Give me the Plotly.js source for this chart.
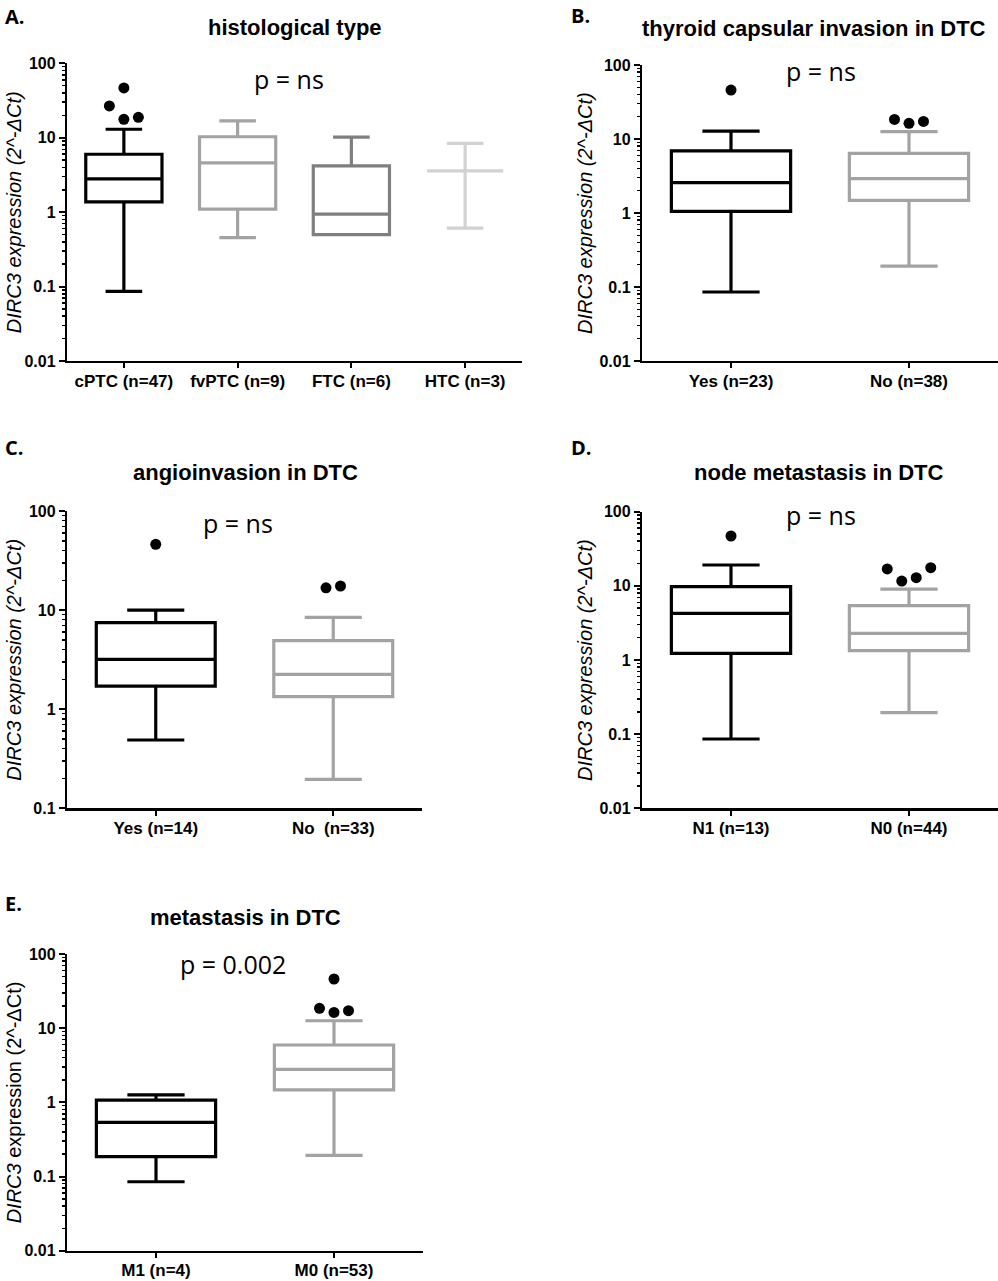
<!DOCTYPE html>
<html><head><meta charset="utf-8">
<script src="https://cdn.plot.ly/plotly-3.0.1.min.js"></script>
<style>html,body{margin:0;padding:0;background:#fff}#chart{width:998px;height:1281px}</style>
</head><body><div id="chart"></div>
<script>
// ---------- DATA ----------
// Panel A: histological type
const catsA = ['cPTC (n=47)', 'fvPTC (n=9)', 'FTC (n=6)', 'HTC (n=3)'];
const lowA = [0.086, 0.455, 0.50, 0.61];
const q1A  = [1.37, 1.10, 0.50, 3.58];
const medA = [2.8, 4.6, 0.94, 3.58];
const q3A  = [6.0, 10.3, 4.18, 3.58];
const upA  = [13.0, 16.8, 10.2, 8.4];
const outGrpA = [0, 0, 0, 0];
const outValA = [46.6, 26.7, 17.7, 18.8];
const outSlotA = [0, -1, 0, 1];

// Panel B: thyroid capsular invasion in DTC
const catsB = ['Yes (n=23)', 'No (n=38)'];
const lowB = [0.0856, 0.192];
const q1B  = [1.05, 1.48];
const medB = [2.57, 2.91];
const q3B  = [6.9, 6.4];
const upB  = [12.8, 12.6];
const outGrpB = [0, 1, 1, 1];
const outValB = [45.9, 18.4, 16.3, 17.3];
const outSlotB = [0, -1, 0, 1];

// Panel C: angioinvasion in DTC
const catsC = ['Yes (n=14)', 'No  (n=33)'];
const lowC = [0.489, 0.196];
const q1C  = [1.71, 1.34];
const medC = [3.18, 2.25];
const q3C  = [7.46, 4.92];
const upC  = [10.0, 8.45];
const outGrpC = [0, 1, 1];
const outValC = [46.1, 16.8, 17.5];
const outSlotC = [0, -0.5, 0.5];

// Panel D: node metastasis in DTC
const catsD = ['N1 (n=13)', 'N0 (n=44)'];
const lowD = [0.086, 0.195];
const q1D  = [1.23, 1.34];
const medD = [4.26, 2.29];
const q3D  = [9.75, 5.4];
const upD  = [19.1, 9.06];
const outGrpD = [0, 1, 1, 1, 1];
const outValD = [47.0, 16.9, 11.6, 12.9, 17.6];
const outSlotD = [0, -1.5, -0.5, 0.5, 1.5];

// Panel E: metastasis in DTC
const catsE = ['M1 (n=4)', 'M0 (n=53)'];
const lowE = [0.085, 0.193];
const q1E  = [0.185, 1.47];
const medE = [0.537, 2.79];
const q3E  = [1.07, 5.93];
const upE  = [1.26, 12.6];
const outGrpE = [1, 1, 1, 1];
const outValE = [46.0, 18.5, 16.3, 17.2];
const outSlotE = [0, -1, 0, 1];

const titles = ['histological type', 'thyroid capsular invasion in DTC', 'angioinvasion in DTC', 'node metastasis in DTC', 'metastasis in DTC'];
const letters = ['A.', 'B.', 'C.', 'D.', 'E.'];
const pvals = ['p = ns', 'p = ns', 'p = ns', 'p = ns', 'p = 0.002'];
const yTickVals4 = [0.01, 0.1, 1, 10, 100];
const yTickText4 = ['0.01', '0.1', '1', '10', '100'];
const yTickVals3 = [0.1, 1, 10, 100];
const yTickText3 = ['0.1', '1', '10', '100'];

// ---------- LAYOUT GEOMETRY ----------
const W = 998, H = 1281;
const geom = [
  {x0: 67, x1: 522, y0: 63.3, y1: 361, yr: [-2, 2], tv: yTickVals4, tt: yTickText4,
   title: {x: 295, y: 27, anchor: 'center'}, letter: {x: 3, y: 16}, p: {x: 289, y: 79}, yt: {x: 14}},
  {x0: 642, x1: 998, y0: 65, y1: 361, yr: [-2, 2], tv: yTickVals4, tt: yTickText4,
   title: {x: 640, y: 28, anchor: 'left'}, letter: {x: 569, y: 15}, p: {x: 821, y: 71}, yt: {x: 585}},
  {x0: 67, x1: 422, y0: 511, y1: 808.3, yr: [-1, 2], tv: yTickVals3, tt: yTickText3,
   title: {x: 245, y: 473, anchor: 'center'}, letter: {x: 3, y: 448}, p: {x: 238, y: 523}, yt: {x: 14}},
  {x0: 642, x1: 998, y0: 511.7, y1: 808.3, yr: [-2, 2], tv: yTickVals4, tt: yTickText4,
   title: {x: 819, y: 473, anchor: 'center'}, letter: {x: 569, y: 448}, p: {x: 821, y: 515}, yt: {x: 585}},
  {x0: 67, x1: 423, y0: 954, y1: 1250.7, yr: [-2, 2], tv: yTickVals4, tt: yTickText4,
   title: {x: 245, y: 917, anchor: 'center'}, letter: {x: 3, y: 903}, p: {x: 233, y: 964}, yt: {x: 14}}
];

const panels = [
  {cats: catsA, low: lowA, q1: q1A, med: medA, q3: q3A, up: upA, og: outGrpA, ov: outValA, os: outSlotA,
   colors: ['#000000', '#a3a3a3', '#7f7f7f', '#d2d2d2']},
  {cats: catsB, low: lowB, q1: q1B, med: medB, q3: q3B, up: upB, og: outGrpB, ov: outValB, os: outSlotB,
   colors: ['#000000', '#a3a3a3']},
  {cats: catsC, low: lowC, q1: q1C, med: medC, q3: q3C, up: upC, og: outGrpC, ov: outValC, os: outSlotC,
   colors: ['#000000', '#a3a3a3']},
  {cats: catsD, low: lowD, q1: q1D, med: medD, q3: q3D, up: upD, og: outGrpD, ov: outValD, os: outSlotD,
   colors: ['#000000', '#a3a3a3']},
  {cats: catsE, low: lowE, q1: q1E, med: medE, q3: q3E, up: upE, og: outGrpE, ov: outValE, os: outSlotE,
   colors: ['#000000', '#a3a3a3'], upright: true}
];

const FAM = 'Liberation Sans, Arial, sans-serif';
const xTickFont = {family: FAM, size: 17, color: '#000', weight: 'bold'};
const yTickFont = {family: FAM, size: 16, color: '#000', weight: 'bold'};
const data = [];
const layout = {
  width: W, height: H, margin: {l: 0, r: 0, t: 0, b: 0},
  paper_bgcolor: '#fff', plot_bgcolor: 'rgba(0,0,0,0)',
  showlegend: false, boxmode: 'overlay', annotations: []
};

function minorVals(r) {
  const out = [];
  for (let d = r[0]; d < r[1]; d++) for (let k = 2; k <= 9; k++) out.push(k * Math.pow(10, d));
  return out;
}

panels.forEach((P, pi) => {
  const g = geom[pi];
  const sfx = pi === 0 ? '' : String(pi + 1);
  const xa = 'x' + sfx, ya = 'y' + sfx;
  const n = P.cats.length;
  const pxPerUnit = (g.x1 - g.x0) / n;
  P.cats.forEach((c, i) => {
    data.push({
      type: 'box', x: [i], q1: [P.q1[i]], median: [P.med[i]], q3: [P.q3[i]],
      lowerfence: [P.low[i]], upperfence: [P.up[i]],
      width: 0.67, whiskerwidth: 0.48, boxpoints: false,
      line: {color: P.colors[i], width: 3.2}, fillcolor: 'rgba(0,0,0,0)',
      xaxis: xa, yaxis: ya, hoverinfo: 'skip'
    });
  });
  data.push({
    type: 'scatter', mode: 'markers',
    x: P.og.map((gi, k) => gi + P.os[k] * 14.5 / pxPerUnit),
    y: P.ov, marker: {color: '#000', size: 11},
    xaxis: xa, yaxis: ya, hoverinfo: 'skip', cliponaxis: false
  });
  layout['xaxis' + sfx] = {
    domain: [g.x0 / W, g.x1 / W], anchor: ya,
    range: [-0.5, n - 0.5], tickmode: 'array', tickvals: P.cats.map((c, i) => i), ticktext: P.cats,
    ticks: 'outside', ticklen: 5, tickwidth: 2, tickcolor: '#000', ticklabelstandoff: -2,
    showline: true, linewidth: 2.2, linecolor: '#000', showgrid: false, zeroline: false,
    tickfont: xTickFont, fixedrange: true
  };
  layout['yaxis' + sfx] = {
    domain: [1 - g.y1 / H, 1 - g.y0 / H], anchor: xa, type: 'log',
    range: g.yr, tickmode: 'array', tickvals: g.tv, ticktext: g.tt,
    ticks: 'outside', ticklen: 6, tickwidth: 2, tickcolor: '#000',
    minor: {tickmode: 'array', tickvals: minorVals(g.yr), ticks: 'outside', ticklen: 3, tickwidth: 1.5, tickcolor: '#000', showgrid: false},
    showline: true, linewidth: 2.2, linecolor: '#000', showgrid: false, zeroline: false,
    tickfont: yTickFont, fixedrange: true
  };
  const ann = layout.annotations;
  ann.push({xref: 'paper', yref: 'paper', x: g.title.x / W, y: 1 - g.title.y / H,
    xanchor: g.title.anchor, yanchor: 'middle', showarrow: false, text: titles[pi],
    font: {family: FAM, size: 22, color: '#000', weight: 'bold'}});
  ann.push({xref: 'paper', yref: 'paper', x: g.letter.x / W, y: 1 - g.letter.y / H,
    xanchor: 'left', yanchor: 'middle', showarrow: false, text: letters[pi],
    font: {family: 'Open Sans, sans-serif', size: 20, color: '#000', weight: 'bold'}});
  ann.push({xref: 'paper', yref: 'paper', x: g.p.x / W, y: 1 - g.p.y / H,
    xanchor: 'center', yanchor: 'middle', showarrow: false, text: pvals[pi],
    font: {family: 'Open Sans, sans-serif', size: 25, color: '#000'}});
  const yText = P.upright ? '<i>DIRC3</i> expression (2^-ΔCt)' : '<i>DIRC3 expression (2^-ΔCt)</i>';
  ann.push({xref: 'paper', yref: 'paper', x: g.yt.x / W, y: 1 - ((g.y0 + g.y1) / 2) / H,
    xanchor: 'center', yanchor: 'middle', showarrow: false, textangle: -90, text: yText,
    font: {family: FAM, size: 20, color: '#000'}});
});

Plotly.newPlot('chart', data, layout, {staticPlot: true, displayModeBar: false});
</script>
</body></html>
